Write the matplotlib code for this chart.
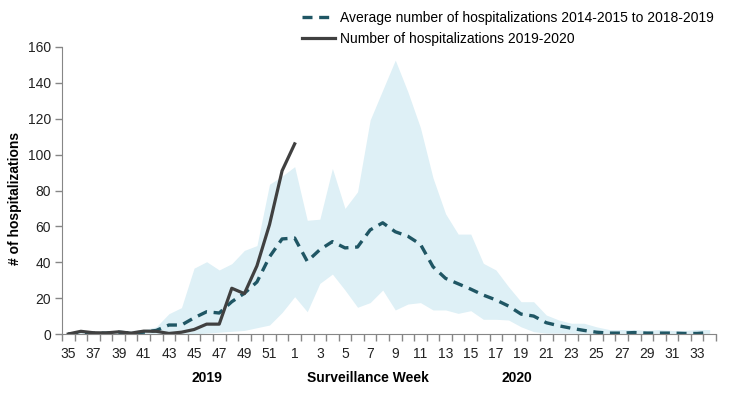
import numpy as np
import matplotlib.pyplot as plt

plt.rcParams['font.family'] = ['Liberation Sans', 'DejaVu Sans']

# surveillance weeks 35-52 (2019) then 1-34 (2020)
weeks = list(range(35, 53)) + list(range(1, 35))

# average 2014-2015 to 2018-2019
avg_hosp = [0, 0.5, 0.5, 0.5, 1, 0.5, 1, 2, 5, 5,
            9, 12.4, 11.7, 18, 22.7, 29, 43, 53, 53.5, 40.5,
            47, 51.5, 48, 48.5, 58, 62, 57, 54.5, 50, 37.5,
            31, 28, 25, 21.7, 19, 15.6, 11.1, 10, 6.3, 4.6,
            3.2, 2, 1, 0.5, 0.5, 0.8, 0.5, 0.5, 0.5, 0.3,
            0.3, 0.8]

# min / max range of previous seasons
range_high = [0.5, 2, 1.5, 1.5, 2, 2, 2.5, 4, 11.3, 14.7,
              36.7, 40.3, 35.7, 39.2, 46.6, 49.3, 83.5, 88, 93.3, 63.4,
              64, 92.3, 70, 79.3, 119.3, 136, 152.7, 135, 115, 87,
              67, 55.7, 55.7, 39.4, 35.7, 26.4, 18, 18, 10.6, 7.8,
              6, 6, 4, 2.5, 2.5, 2.5, 2, 2.5, 2, 2,
              2.5, 2.5]
range_low = [0, 0, 0, 0, 0, 0, 0, 0, 0, 0,
             0, 0.5, 1, 1.5, 2, 3.5, 5, 12, 20.8, 12.4,
             28.2, 33.4, 24.5, 14.9, 17.5, 24.5, 13.4, 16.7, 17.5, 13.4,
             13.4, 11.5, 13, 8.2, 8.2, 7.8, 4, 1.3, 0.5, 0.5,
             0.5, 0.3, 0.3, 0.3, 0.3, 0.3, 0.3, 0.3, 0.3, 0.3,
             0.3, 0.3]

# 2019-2020 season so far
current_hosp = [0, 1.5, 0.7, 0.6, 1.2, 0.5, 1.6, 1.5, 0.3, 1,
                2.5, 5.5, 5.5, 25.5, 22.5, 38, 61, 91, 106]

x = np.arange(len(weeks))
x_cur = np.arange(len(current_hosp))

fig = plt.figure(figsize=(7.4, 3.94), dpi=100)
ax = fig.add_axes([62/740, 60/394, 654/740, 287/394])

ax.fill_between(x, range_low, range_high, color='#def0f6', lw=0)
ax.plot(x, avg_hosp, color='#1f5664', lw=2.4, dashes=(3, 2),
        label='Average number of hospitalizations 2014-2015 to 2018-2019')
ax.plot(x_cur, current_hosp, color='#404040', lw=2.3,
        label='Number of hospitalizations 2019-2020')

ax.set_xlim(-0.5, len(weeks) - 0.5)
ax.set_ylim(0, 160)
ax.set_yticks(np.arange(0, 161, 20))

# labels every other week, ticks between categories
ax.set_xticks(x[::2])
ax.set_xticklabels([str(w) for w in weeks[::2]])
ax.set_xticks(np.arange(-0.5, len(weeks)), minor=True)
ax.tick_params(axis='x', which='major', length=0, pad=9, labelsize=10, colors='#222222')
ax.tick_params(axis='x', which='minor', length=5, width=1, color='#868686')
ax.tick_params(axis='y', length=5, width=1, color='#868686', labelsize=10,
               labelcolor='#222222', pad=3)

for s in ['top', 'right']:
    ax.spines[s].set_visible(False)
for s in ['left', 'bottom']:
    ax.spines[s].set_color('#868686')

fig.text(15/740, 1 - 198/394, '# of hospitalizations', rotation=90,
         ha='center', va='center', fontsize=10, fontweight='bold')

trans = ax.get_xaxis_transform()
ax.text(11.0, -0.153, '2019', transform=trans, ha='center', va='center',
        fontsize=10, fontweight='bold')
ax.text(23.8, -0.153, 'Surveillance Week', transform=trans, ha='center', va='center',
        fontsize=10, fontweight='bold')
ax.text(35.7, -0.153, '2020', transform=trans, ha='center', va='center',
        fontsize=10, fontweight='bold')

ax.legend(loc='upper left', bbox_to_anchor=(302/740, 1 - 11/394),
          bbox_transform=fig.transFigure, frameon=False, fontsize=10,
          handlelength=2.4, handletextpad=0.3, borderpad=0, borderaxespad=0,
          labelspacing=0.5)

fig.savefig('out.png', dpi=100)
